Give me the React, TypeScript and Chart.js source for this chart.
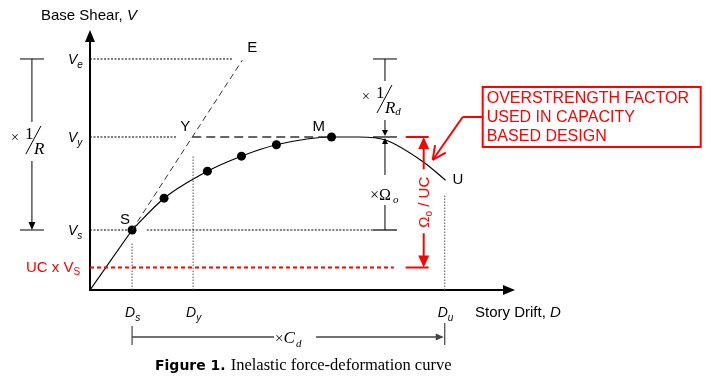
import React, { useEffect, useRef } from "react";
import { Chart, registerables } from "chart.js";
Chart.register(...registerables);

// Normalised units: drift D (Ds = 1), base shear V (Vs = 1)
const capacityDrift = [1.0, 1.76, 2.79, 3.6, 4.43, 5.74, 6.4, 7.02, 7.93, 8.45];
const capacityShear = [1.0, 1.53, 1.98, 2.23, 2.42, 2.55, 2.55, 2.5, 2.13, 1.83];
const markerCount = 6;
const elasticDrift = [0, 1.0];
const elasticShear = [0, 1.0];
const extDrift = [1.0, 2.43, 3.62];
const extShear = [1.0, 2.55, 3.83];
const levelNames = ["s", "y", "e"];
const levelShear = [1.0, 2.55, 3.85];
const levelLineEnd = [6.75, 2.07, 3.4];
const vsGap = [0.9, 1.35];
const ucShear = 0.375;
const ucLineEnd = 7.22;
const driftNames = ["s", "y", "u"];
const driftValues = [1.0, 2.45, 8.43];
const driftLineTop = [0.8, 2.23, 1.58];
const plateauDrift = [2.43, 5.74];
const rBracketDrift = -1.38;
const rdBracketDrift = 7.01;
const ucBracketDrift = 7.93;
const boxLines = ["OVERSTRENGTH FACTOR", "USED IN CAPACITY", "BASED DESIGN"];

const X_MAX = 10.1;
const Y_MAX = 4.333;
const SANS = "'Liberation Sans', Arial, sans-serif";
const SERIF = "'Liberation Serif', 'Times New Roman', serif";
const RED = "#ff0000";

const pts = (xs: number[], ys: number[]) => xs.map((x, i) => ({ x, y: ys[i] }));

function seg(ctx: any, x1: number, y1: number, x2: number, y2: number, color: string, w: number, dash: number[] = []) {
  ctx.save();
  ctx.strokeStyle = color;
  ctx.lineWidth = w;
  ctx.setLineDash(dash);
  ctx.beginPath();
  ctx.moveTo(x1, y1);
  ctx.lineTo(x2, y2);
  ctx.stroke();
  ctx.restore();
}

function head(ctx: any, tx: number, ty: number, dx: number, dy: number, len: number, hw: number, color: string) {
  const n = Math.hypot(dx, dy);
  const ux = dx / n, uy = dy / n;
  const bx = tx - ux * len, by = ty - uy * len;
  ctx.save();
  ctx.fillStyle = color;
  ctx.beginPath();
  ctx.moveTo(tx, ty);
  ctx.lineTo(bx - uy * hw, by + ux * hw);
  ctx.lineTo(bx + uy * hw, by - ux * hw);
  ctx.closePath();
  ctx.fill();
  ctx.restore();
}

type Part = { t: string; f: string; c?: string; dy?: number; gap?: number };
function rich(ctx: any, parts: Part[], x: number, y: number) {
  let cx = x;
  ctx.save();
  ctx.textBaseline = "alphabetic";
  ctx.textAlign = "left";
  for (const p of parts) {
    ctx.font = p.f;
    ctx.fillStyle = p.c || "#000";
    ctx.fillText(p.t, cx, y + (p.dy || 0));
    cx += ctx.measureText(p.t).width + (p.gap || 0);
  }
  ctx.restore();
  return cx;
}

function fraction(ctx: any, sx: number, sy: number, sub: string) {
  // (sx, sy): bottom end of the fraction slash
  rich(ctx, [{ t: "×", f: `14px ${SERIF}` }], sx - 15, sy - 12);
  rich(ctx, [{ t: "1", f: `17px ${SERIF}` }], sx - 1, sy - 15);
  seg(ctx, sx, sy, sx + 15, sy - 28, "#000", 1);
  rich(ctx, [{ t: "R", f: `italic 17px ${SERIF}` }, { t: sub, f: `italic 11px ${SERIF}`, dy: 2 }], sx + 8, sy);
}

const annotations = {
  id: "annotations",
  beforeDatasetsDraw(chart: any) {
    const ctx = chart.ctx;
    const X = (d: number) => chart.scales.x.getPixelForValue(d);
    const Y = (v: number) => chart.scales.y.getPixelForValue(v);
    // axes with arrows
    seg(ctx, X(0), Y(0), X(0), Y(Y_MAX) + 10, "#000", 2);
    head(ctx, X(0), Y(Y_MAX), 0, -1, 12, 5, "#000");
    seg(ctx, X(0) - 1, Y(0), X(X_MAX) - 10, Y(0), "#000", 2);
    head(ctx, X(X_MAX), Y(0), 1, 0, 12, 5, "#000");
  },
  afterDatasetsDraw(chart: any) {
    const ctx = chart.ctx;
    const X = (d: number) => chart.scales.x.getPixelForValue(d);
    const Y = (v: number) => chart.scales.y.getPixelForValue(v);
    const [vs, vy, ve] = levelShear;

    // axis titles
    rich(ctx, [{ t: "Base Shear, ", f: `15px ${SANS}` }, { t: "V", f: `italic 15px ${SANS}` }], X(0) - 49, 20);
    rich(ctx, [{ t: "Story Drift, ", f: `15px ${SANS}` }, { t: "D", f: `italic 15px ${SANS}` }], X(X_MAX) - 40, Y(0) + 27);

    // shear level labels
    levelNames.forEach((n, i) => {
      rich(ctx, [{ t: "V", f: `italic 14px ${SANS}`, gap: 0 }, { t: n, f: `italic 10px ${SANS}`, dy: 4 }], X(0) - 22, Y(levelShear[i]) + 5);
    });
    // UC x Vs
    rich(ctx, [{ t: "UC x V", f: `15px ${SANS}`, c: RED }, { t: "S", f: `10px ${SANS}`, c: RED, dy: 3 }], X(0) - 64, Y(ucShear) + 5);

    // drift labels
    driftNames.forEach((n, i) => {
      rich(ctx, [{ t: "D", f: `italic 14px ${SANS}` }, { t: n, f: `italic 10px ${SANS}`, dy: 4 }], X(driftValues[i]) - 7, Y(0) + 27);
    });

    // point labels
    const f15 = `15px ${SANS}`;
    rich(ctx, [{ t: "S", f: f15 }], X(capacityDrift[0]) - 12, Y(capacityShear[0]) - 6);
    rich(ctx, [{ t: "M", f: f15 }], X(capacityDrift[5]) - 19, Y(capacityShear[5]) - 6);
    const last = capacityDrift.length - 1;
    rich(ctx, [{ t: "U", f: f15 }], X(capacityDrift[last]) + 7, Y(capacityShear[last]) + 4);
    rich(ctx, [{ t: "Y", f: f15 }], X(extDrift[1]) - 12, Y(extShear[1]) - 6);
    rich(ctx, [{ t: "E", f: f15 }], X(extDrift[2]) + 5, Y(extShear[2]) - 8);

    // left bracket x 1/R (Ve -> Vs)
    const bl = X(rBracketDrift);
    seg(ctx, bl - 12, Y(ve), bl + 12, Y(ve), "#000", 1);
    seg(ctx, bl, Y(ve), bl, Y(ve) + 63, "#000", 1);
    fraction(ctx, bl - 6, Y(ve) + 95, "");
    seg(ctx, bl, Y(ve) + 102, bl, Y(vs) - 6, "#000", 1);
    head(ctx, bl, Y(vs), 0, 1, 8, 3.5, "#000");
    seg(ctx, bl - 12, Y(vs), bl + 12, Y(vs), "#000", 1);

    // right bracket x 1/Rd (Ve -> Vy) and x Omega (Vy -> Vs)
    const br = X(rdBracketDrift);
    seg(ctx, br - 12, Y(ve), br + 12, Y(ve), "#000", 1);
    seg(ctx, br, Y(ve), br, Y(ve) + 22, "#000", 1);
    fraction(ctx, br - 8, Y(ve) + 54, "d");
    seg(ctx, br, Y(ve) + 61, br, Y(vy) - 6, "#000", 1);
    head(ctx, br, Y(vy) - 1, 0, 1, 6, 3, "#000");
    seg(ctx, br - 12, Y(vy), br + 12, Y(vy), "#000", 1.2);
    head(ctx, br, Y(vy) + 1, 0, -1, 6, 3, "#000");
    seg(ctx, br, Y(vy) + 6, br, Y(vy) + 38, "#000", 1);
    rich(ctx, [{ t: "×Ω", f: `16px ${SERIF}`, gap: 2 }, { t: "o", f: `italic 11px ${SERIF}`, dy: 3 }], br - 15, Y(vy) + 63);
    seg(ctx, br, Y(vy) + 68, br, Y(vs), "#000", 1);
    seg(ctx, br - 12, Y(vs), br + 12, Y(vs), "#000", 1.2);

    // red bracket Omega_o / UC (Vy -> UC x Vs)
    const rx = X(ucBracketDrift);
    seg(ctx, rx - 18, Y(vy), rx + 5, Y(vy), RED, 2);
    seg(ctx, rx - 18, Y(ucShear), rx + 5, Y(ucShear), RED, 2);
    head(ctx, rx, Y(vy), 0, -1, 12, 5.5, RED);
    head(ctx, rx, Y(ucShear), 0, 1, 12, 5.5, RED);
    const midY = (Y(vy) + Y(ucShear)) / 2 + 0;
    seg(ctx, rx, Y(vy) + 10, rx, midY - 33, RED, 2);
    seg(ctx, rx, midY + 31, rx, Y(ucShear) - 10, RED, 2);
    ctx.save();
    ctx.translate(rx, midY);
    ctx.rotate(-Math.PI / 2);
    ctx.font = `15px ${SANS}`;
    const w1 = ctx.measureText("Ω").width;
    ctx.font = `10px ${SANS}`;
    const w2 = ctx.measureText("o").width;
    ctx.font = `15px ${SANS}`;
    const w3 = ctx.measureText(" / UC").width;
    const tot = w1 + w2 + w3;
    rich(ctx, [{ t: "Ω", f: `15px ${SANS}`, c: RED }, { t: "o", f: `10px ${SANS}`, c: RED, dy: 3 }, { t: " / UC", f: `15px ${SANS}`, c: RED }], -tot / 2, 5);
    ctx.restore();

    // red callout box
    const bx = rx + 59, by = Y(vy) - 50, bw = 218, bh = 60;
    ctx.save();
    ctx.strokeStyle = RED;
    ctx.lineWidth = 2;
    ctx.strokeRect(bx, by, bw, bh);
    ctx.restore();
    boxLines.forEach((t, i) => rich(ctx, [{ t, f: `16px ${SANS}`, c: RED }], bx + 4, by + 16 + i * 19));
    // leader with open arrow
    const ly = by + 30;
    seg(ctx, bx, ly, bx - 20, ly, RED, 2);
    const tipX = rx + 9, tipY = Y(vy) + 23;
    seg(ctx, bx - 20, ly, tipX, tipY, RED, 2);
    const ang = Math.atan2(ly - tipY, bx - 20 - tipX);
    [0.45, -0.45].forEach((a) => seg(ctx, tipX, tipY, tipX + 15 * Math.cos(ang + a), tipY + 15 * Math.sin(ang + a), RED, 2));

    // x Cd bracket
    const cy = Y(0) + 47;
    const cl = X(driftValues[0]), cr = X(driftValues[2]);
    const gray = "#444";
    seg(ctx, cl, cy - 11, cl, cy + 8, gray, 1.2);
    seg(ctx, cr, cy - 14, cr, cy + 8, gray, 1.2);
    seg(ctx, cl, cy, cl + 142, cy, gray, 1.5);
    rich(ctx, [{ t: "×", f: `15px ${SERIF}` }, { t: "C", f: `italic 17px ${SERIF}`, gap: 1 }, { t: "d", f: `italic 11px ${SERIF}`, dy: 4 }], cl + 143, cy + 6);
    seg(ctx, cl + 184, cy, cr - 6, cy, gray, 1.5);
    head(ctx, cr - 1, cy, 1, 0, 8, 3.5, gray);

    // caption
    const capX = 155, capY = 370;
    const endX = rich(ctx, [{ t: "Figure 1.", f: `bold 14px 'DejaVu Sans', sans-serif` }], capX, capY);
    rich(ctx, [{ t: "Inelastic force-deformation curve", f: `16.5px ${SERIF}` }], endX + 5, capY);
  },
};

export default function App() {
  const ref = useRef<HTMLCanvasElement | null>(null);
  useEffect(() => {
    document.body.style.margin = "0";
    const [vs, vy, ve] = levelShear;
    const dotted = (data: any[], color = "#000", dash = [2, 1.5]) => ({
      type: "line" as const,
      data,
      showLine: true,
      borderColor: color,
      borderWidth: 1,
      borderDash: dash,
      pointRadius: 0,
      fill: false,
    });
    const datasets: any[] = [];
    // horizontal reference lines
    datasets.push(dotted([{ x: 0, y: ve }, { x: levelLineEnd[2], y: ve }]));
    datasets.push(dotted([{ x: 0, y: vy }, { x: levelLineEnd[1], y: vy }]));
    datasets.push(dotted([{ x: 0, y: vs }, { x: vsGap[0], y: vs }]));
    datasets.push(dotted([{ x: vsGap[1], y: vs }, { x: levelLineEnd[0], y: vs }]));
    // vertical drift lines
    driftValues.forEach((d, i) => datasets.push(dotted([{ x: d, y: 0 }, { x: d, y: driftLineTop[i] }], "#555", [1.5, 1.5])));
    // UC x Vs red dashed line
    datasets.push({ ...dotted([{ x: 0, y: ucShear }, { x: ucLineEnd, y: ucShear }], RED, [4, 3]), borderWidth: 2 });
    // elastic extension (dashed) to E
    datasets.push({ ...dotted(pts(extDrift, extShear), "#333", [6, 4]), borderWidth: 1 });
    // yield plateau dashed
    datasets.push({ ...dotted(plateauDrift.map((x) => ({ x, y: vy })), "#333", [9, 5]), borderWidth: 1.4 });
    // elastic segment
    datasets.push({ type: "line", data: pts(elasticDrift, elasticShear), showLine: true, borderColor: "#000", borderWidth: 1.2, pointRadius: 0, tension: 0 });
    // capacity curve
    datasets.push({ type: "line", data: pts(capacityDrift, capacityShear), showLine: true, borderColor: "#000", borderWidth: 1.2, pointRadius: 0, cubicInterpolationMode: "monotone" });
    // markers
    datasets.push({ type: "scatter", data: pts(capacityDrift.slice(0, markerCount), capacityShear.slice(0, markerCount)), showLine: false, pointRadius: 4.5, pointBackgroundColor: "#000", pointBorderWidth: 0 });

    const chart = new Chart(ref.current as HTMLCanvasElement, {
      type: "scatter",
      data: { datasets },
      options: {
        responsive: false,
        animation: false,
        devicePixelRatio: 1,
        layout: { padding: { left: 90, right: 201, top: 30, bottom: 93 } },
        plugins: { legend: { display: false }, tooltip: { enabled: false }, title: { display: false } },
        scales: {
          x: { type: "linear", min: 0, max: X_MAX, display: false },
          y: { type: "linear", min: 0, max: Y_MAX, display: false },
        },
        events: [],
      },
      plugins: [annotations],
    } as any);
    return () => chart.destroy();
  }, []);
  return (
    <div style={{ position: "fixed", left: 0, top: 0, width: 716, height: 383, background: "#fff" }}>
      <canvas ref={ref} width={716} height={383} style={{ display: "block" }} />
    </div>
  );
}
